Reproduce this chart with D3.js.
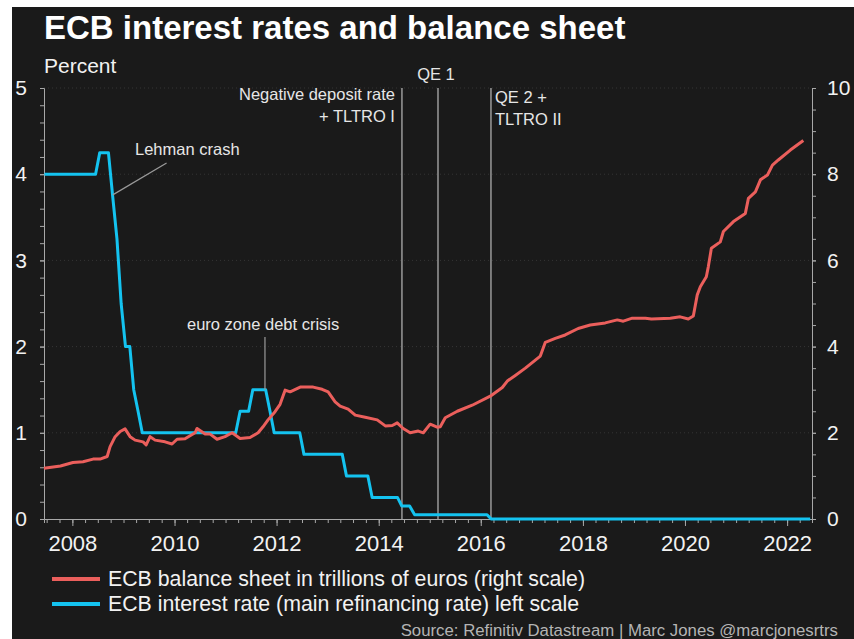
<!DOCTYPE html>
<html>
<head>
<meta charset="utf-8">
<script src="https://cdn.jsdelivr.net/npm/d3@7"></script>
<style>
body { margin: 0; background: #fff; }
text { font-family: "Liberation Sans", Arial, sans-serif; }
</style>
</head>
<body>
<div id="main"></div>
<script>
// ECB main refinancing rate, percent (vertices of the plotted line)
var rateDates = ["2007-06-15", "2008-06-15", "2008-07-15", "2008-09-15", "2008-10-15", "2008-11-15", "2008-12-15",
    "2009-01-15", "2009-02-15", "2009-03-15", "2009-04-15", "2009-05-15", "2011-03-15", "2011-04-15", "2011-06-15",
    "2011-07-15", "2011-10-15", "2011-11-15", "2011-12-15", "2012-06-15", "2012-07-15", "2013-04-15", "2013-05-15",
    "2013-10-15", "2013-11-15", "2014-05-15", "2014-06-15", "2014-08-10", "2014-09-15", "2016-02-15", "2016-03-15",
    "2022-06-15"];
var rateValues = [4.0, 4.0, 4.25, 4.25, 3.75, 3.25, 2.5,
    2.0, 2.0, 1.5, 1.25, 1.0, 1.0, 1.25, 1.25,
    1.5, 1.5, 1.25, 1.0, 1.0, 0.75, 0.75, 0.5,
    0.5, 0.25, 0.25, 0.15, 0.15, 0.05, 0.05, 0.0,
    0.0];

// ECB balance sheet, trillions of euros
var sheetDates = ["2007-06-12", "2007-10-08", "2008-01-05", "2008-03-17", "2008-05-28", "2008-07-17", "2008-09-06",
    "2008-09-27", "2008-11-02", "2008-12-08", "2009-01-12", "2009-02-17", "2009-03-25", "2009-05-21", "2009-06-12",
    "2009-07-10", "2009-08-15", "2009-10-25", "2009-12-14", "2010-01-19", "2010-03-17", "2010-05-28", "2010-06-11",
    "2010-08-08", "2010-09-13", "2010-11-01", "2010-12-28", "2011-02-17", "2011-04-15", "2011-06-25", "2011-08-22",
    "2011-09-26", "2011-11-01", "2011-12-21", "2012-01-26", "2012-03-02", "2012-04-07", "2012-06-18", "2012-09-19",
    "2012-11-22", "2013-01-04", "2013-02-23", "2013-03-31", "2013-05-27", "2013-07-17", "2013-09-26", "2013-12-21",
    "2014-02-17", "2014-04-08", "2014-05-13", "2014-06-25", "2014-08-14", "2014-10-11", "2014-11-16", "2015-01-04",
    "2015-02-23", "2015-03-17", "2015-04-22", "2015-07-17", "2015-11-01", "2016-03-09", "2016-06-03", "2016-07-09",
    "2016-09-04", "2016-11-15", "2017-03-02", "2017-04-07", "2017-06-17", "2017-08-27", "2017-11-28", "2018-02-22",
    "2018-06-10", "2018-09-04", "2018-10-17", "2018-12-20", "2019-03-24", "2019-05-06", "2019-09-18", "2019-11-28",
    "2020-01-25", "2020-03-01", "2020-03-29", "2020-04-20", "2020-06-02", "2020-06-16", "2020-07-08", "2020-09-10",
    "2020-10-02", "2020-12-13", "2021-03-08", "2021-03-30", "2021-05-19", "2021-06-24", "2021-08-13", "2021-09-18",
    "2021-10-30", "2022-01-24", "2022-04-27"];
var sheetValues = [1.18, 1.23, 1.31, 1.33, 1.39, 1.39, 1.45,
    1.68, 1.91, 2.03, 2.09, 1.91, 1.83, 1.79, 1.72,
    1.91, 1.83, 1.79, 1.74, 1.85, 1.86, 2.0, 2.10,
    1.97, 1.97, 1.85, 1.91, 2.0, 1.87, 1.89, 2.0,
    2.14, 2.30, 2.49, 2.66, 2.99, 2.95, 3.06, 3.06,
    3.01, 2.95, 2.72, 2.62, 2.55, 2.41, 2.36, 2.30,
    2.16, 2.17, 2.23, 2.10, 2.0, 2.04, 2.0, 2.20,
    2.13, 2.14, 2.35, 2.50, 2.64, 2.85, 3.05, 3.20,
    3.33, 3.50, 3.78, 4.10, 4.19, 4.27, 4.42, 4.50,
    4.55, 4.62, 4.59, 4.66, 4.66, 4.64, 4.66, 4.69,
    4.64, 4.71, 5.20, 5.39, 5.62, 5.85, 6.28, 6.43,
    6.67, 6.90, 7.09, 7.44, 7.59, 7.87, 7.98, 8.21,
    8.33, 8.56, 8.78];

var yearLabels = [2008, 2010, 2012, 2014, 2016, 2018, 2020, 2022];
var leftTicks = [0, 1, 2, 3, 4, 5];
var rightTicks = [0, 2, 4, 6, 8, 10];
var eventDates = ["2014-06-16", "2015-03-01", "2016-03-14"];
var legendLabels = ["ECB balance sheet in trillions of euros (right scale)",
    "ECB interest rate (main refinancing rate) left scale"];

var outerWidth = 854, outerHeight = 639;
var plotLeft = 44, plotRight = 812, plotTop = 88, plotBottom = 519;
var redColor = "#eb5f5c", blueColor = "#14c3f0", textColor = "#f2f2f2";

var parseDate = d3.timeParse("%Y-%m-%d");

var rateData = rateDates.map((d, i) => ({ date: parseDate(d), value: rateValues[i] }));
var sheetData = sheetDates.map((d, i) => ({ date: parseDate(d), value: sheetValues[i] }));

var xScale = d3.scaleTime()
    .domain([parseDate("2007-06-12"), parseDate("2022-06-28")])
    .range([plotLeft, plotRight]);
var yLeft = d3.scaleLinear().domain([0, 5]).range([plotBottom, plotTop]);
var yRight = d3.scaleLinear().domain([0, 10]).range([plotBottom, plotTop]);

var svg = d3.select("#main")
    .append("svg")
    .attr("width", outerWidth)
    .attr("height", outerHeight);

svg.append("rect")
    .attr("x", 12)
    .attr("y", 7)
    .attr("width", outerWidth - 12)
    .attr("height", outerHeight - 7)
    .attr("fill", "#1a1a1a");

// faint dotted gridlines
svg.selectAll(".grid")
    .data(leftTicks.slice(1))
    .enter()
    .append("line")
    .attr("class", "grid")
    .attr("x1", plotLeft)
    .attr("x2", plotRight)
    .attr("y1", d => yLeft(d))
    .attr("y2", d => yLeft(d))
    .attr("stroke", "#353535")
    .attr("stroke-dasharray", "1,3");

// event lines
svg.selectAll(".event")
    .data(eventDates)
    .enter()
    .append("line")
    .attr("class", "event")
    .attr("x1", d => xScale(parseDate(d)))
    .attr("x2", d => xScale(parseDate(d)))
    .attr("y1", plotTop)
    .attr("y2", plotBottom)
    .attr("stroke", "#9a9a9a")
    .attr("stroke-width", 1.5);

// axes
function styleAxis(g) {
    g.selectAll("path, line").attr("stroke", "#a8a8a8");
    g.selectAll("text").attr("fill", textColor).style("font-family", "'Liberation Sans', Arial, sans-serif");
}

var xMinor = d3.axisBottom(xScale)
    .ticks(d3.timeMonth.every(3))
    .tickSize(4)
    .tickFormat("");
svg.append("g")
    .attr("transform", "translate(0," + plotBottom + ")")
    .call(xMinor)
    .call(styleAxis);

var xMajor = d3.axisBottom(xScale)
    .tickValues(yearLabels.map(y => new Date(y, 0, 1)))
    .tickSize(7)
    .tickPadding(9)
    .tickFormat(d3.timeFormat("%Y"));
svg.append("g")
    .attr("transform", "translate(0," + plotBottom + ")")
    .call(xMajor)
    .call(styleAxis)
    .call(g => g.select(".domain").remove())
    .selectAll("text")
    .style("font-size", "22px");

var leftMinor = d3.axisLeft(yLeft).ticks(25).tickSize(4).tickFormat("");
svg.append("g")
    .attr("transform", "translate(" + plotLeft + ",0)")
    .call(leftMinor)
    .call(styleAxis);

var leftMajor = d3.axisLeft(yLeft).tickValues(leftTicks).tickSize(4).tickPadding(13).tickFormat(d3.format("d"));
svg.append("g")
    .attr("transform", "translate(" + plotLeft + ",0)")
    .call(leftMajor)
    .call(styleAxis)
    .call(g => g.select(".domain").remove())
    .selectAll("text")
    .style("font-size", "21px");

var rightMinor = d3.axisRight(yRight).ticks(25).tickSize(4).tickFormat("");
svg.append("g")
    .attr("transform", "translate(" + plotRight + ",0)")
    .call(rightMinor)
    .call(styleAxis);

var rightMajor = d3.axisRight(yRight).tickValues(rightTicks).tickSize(4).tickPadding(11).tickFormat(d3.format("d"));
svg.append("g")
    .attr("transform", "translate(" + plotRight + ",0)")
    .call(rightMajor)
    .call(styleAxis)
    .call(g => g.select(".domain").remove())
    .selectAll("text")
    .style("font-size", "21px");

// series
var rateLine = d3.line().x(d => xScale(d.date)).y(d => yLeft(d.value));
var sheetLine = d3.line().x(d => xScale(d.date)).y(d => yRight(d.value));

svg.append("path")
    .datum(rateData)
    .attr("d", rateLine)
    .attr("fill", "none")
    .attr("stroke", blueColor)
    .attr("stroke-width", 3)
    .attr("stroke-linejoin", "round");

svg.append("path")
    .datum(sheetData)
    .attr("d", sheetLine)
    .attr("fill", "none")
    .attr("stroke", redColor)
    .attr("stroke-width", 3)
    .attr("stroke-linejoin", "round");

// annotations
var noteSize = "16.5px";
function note(x, y, txt, anchor) {
    svg.append("text")
        .attr("x", x)
        .attr("y", y)
        .attr("text-anchor", anchor || "start")
        .attr("fill", "#e6e6e6")
        .style("font-size", noteSize)
        .text(txt);
}

note(135, 155, "Lehman crash");
svg.append("line")
    .attr("x1", xScale(parseDate("2009-11-05"))).attr("y1", yLeft(4.13))
    .attr("x2", xScale(parseDate("2008-10-16"))).attr("y2", yLeft(3.76))
    .attr("stroke", "#9a9a9a").attr("stroke-width", 1.2);

note(187, 330, "euro zone debt crisis");
svg.append("line")
    .attr("x1", xScale(parseDate("2011-10-10"))).attr("y1", yLeft(2.11))
    .attr("x2", xScale(parseDate("2011-10-10"))).attr("y2", yLeft(1.5))
    .attr("stroke", "#9a9a9a").attr("stroke-width", 1.2);

var ev = eventDates.map(d => xScale(parseDate(d)));
note(ev[0] - 7, 100, "Negative deposit rate", "end");
note(ev[0] - 7, 122, "+ TLTRO I", "end");
note(ev[1] - 2, 80, "QE 1", "middle");
note(ev[2] + 4, 103, "QE 2 +");
note(ev[2] + 4, 125, "TLTRO II");

// titles
svg.append("text")
    .attr("x", 44)
    .attr("y", 39)
    .attr("fill", "#ffffff")
    .style("font-size", "33px")
    .style("font-weight", "bold")
    .text("ECB interest rates and balance sheet");

svg.append("text")
    .attr("x", 44)
    .attr("y", 73)
    .attr("fill", textColor)
    .style("font-size", "21px")
    .text("Percent");

// legend
var legend = svg.selectAll(".legend")
    .data(legendLabels)
    .enter()
    .append("g")
    .attr("class", "legend")
    .attr("transform", (d, i) => "translate(0," + (579 + i * 25) + ")");

legend.append("line")
    .attr("x1", 52)
    .attr("x2", 100)
    .attr("stroke", (d, i) => i == 0 ? redColor : blueColor)
    .attr("stroke-width", 4);

legend.append("text")
    .attr("x", 108)
    .attr("dy", "0.35em")
    .attr("fill", textColor)
    .style("font-size", "21.3px")
    .text(d => d);

svg.append("text")
    .attr("x", 838)
    .attr("y", 636)
    .attr("text-anchor", "end")
    .attr("fill", "#b4b4b4")
    .style("font-size", "16.8px")
    .text("Source: Refinitiv Datastream | Marc Jones @marcjonesrtrs");
</script>
</body>
</html>
